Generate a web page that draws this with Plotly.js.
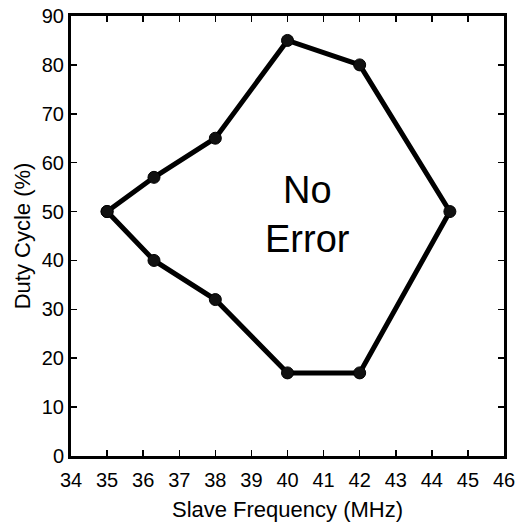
<!DOCTYPE html>
<html><head><meta charset="utf-8">
<script src="https://cdn.plot.ly/plotly-3.0.1.min.js"></script>
<style>html,body{margin:0;padding:0;background:#fff}</style>
</head><body>
<div id="chart" style="width:520px;height:527px"></div>
<script>
const freq = [35, 36.3, 38, 40, 42, 44.5, 42, 40, 38, 36.3, 35];
const duty = [50, 57, 65, 85, 80, 50, 17, 17, 32, 40, 50];
const xTicks = [34,35,36,37,38,39,40,41,42,43,44,45,46];
const yTicks = [0,10,20,30,40,50,60,70,80,90];
const label = "No<br>Error";

const font = {family: "Liberation Sans, Arial, sans-serif", color: "#000"};
const trace = {
  x: freq, y: duty, type: "scatter", mode: "lines+markers",
  line: {color: "#000", width: 5},
  marker: {color: "#111", size: 12, line: {color: "#000", width: 1}},
  hoverinfo: "none"
};
const axisCommon = {
  showgrid: false, zeroline: false, showline: true, mirror: "ticks",
  linecolor: "#000", linewidth: 3, ticks: "inside", ticklen: 6,
  tickwidth: 1.5, tickcolor: "#000", tickfont: Object.assign({size: 20}, font)
};
const layout = {
  width: 520, height: 527,
  margin: {l: 71, r: 16, t: 16, b: 71},
  paper_bgcolor: "#fff", plot_bgcolor: "#fff",
  showlegend: false,
  xaxis: Object.assign({}, axisCommon, {
    range: [34, 46], tickvals: xTicks, ticktext: xTicks.map(String),
    ticklabelstandoff: 4,
    title: {text: "Slave Frequency (MHz)", font: Object.assign({size: 22}, font), standoff: 12}
  }),
  yaxis: Object.assign({}, axisCommon, {
    range: [0, 90], tickvals: yTicks, ticktext: yTicks.map(String),
    title: {text: "Duty Cycle (%)", font: Object.assign({size: 22}, font), standoff: 6}
  }),
  annotations: [{
    x: 40.55, y: 49.5, xref: "x", yref: "y", text: label, showarrow: false,
    font: Object.assign({size: 38}, font), align: "center"
  }]
};
Plotly.newPlot("chart", [trace], layout, {displayModeBar: false, staticPlot: true});
</script>
</body></html>
